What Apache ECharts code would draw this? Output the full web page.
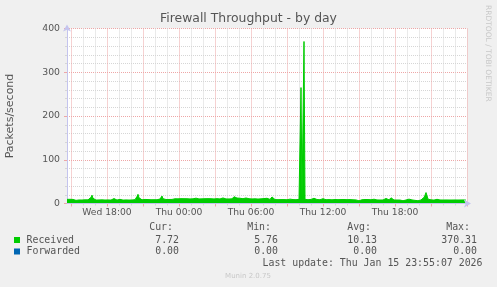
<!DOCTYPE html>
<html>
<head>
<meta charset="utf-8">
<script src="https://cdn.jsdelivr.net/npm/echarts@6/dist/echarts.min.js"></script>
<style>
html,body{margin:0;padding:0;background:#f0f0f0;}
#chart{width:497px;height:287px;}
</style>
</head>
<body>
<div id="chart"></div>
<script>
// ---- data ----
var TITLE = 'Firewall Throughput - by day';
var Y_NAME = 'Packets/second';
var START_MIN = 880;   // Wed 14:40, minutes since Wed 00:00
var STEP_MIN = 5;
var SLOTS = 401;       // 14:40 Wed .. 00:00 Fri
var TICK_LABELS = ['Wed 18:00', 'Thu 00:00', 'Thu 06:00', 'Thu 12:00', 'Thu 18:00'];
var Y_TICKS = [0, 100, 200, 300, 400];

var RECEIVED = [
  9.5, 9.8, 9.2, 9.6, 9.4, 9.7, 9.3, 9.5, 7.4, 7.2, 7.6, 7.3, 8.1, 7.9, 8.3, 8.0, 8.2, 7.8, 8.4, 8.1,
  7.9, 8.3, 8.6, 9.2, 14, 19, 12, 8.4, 8.1, 7.9, 8.5, 9.4, 8.2, 8.0, 9.6, 8.3, 7.9, 8.2, 8.0, 8.4,
  7.8, 8.2, 8.6, 8.1, 7.9, 9.0, 10.5, 11.2, 9.8, 8.2, 7.9, 8.4, 8.1, 9.5, 8.0, 8.3, 7.8, 8.5, 9.6, 8.2,
  8.0, 8.4, 7.9, 8.6, 9.4, 8.1, 8.3, 7.9, 8.8, 10.5, 16, 21, 13, 8.6, 8.9, 8.5, 9.1, 8.7, 9.3, 8.8,
  8.5, 9.0, 8.7, 9.2, 8.6, 8.9, 9.4, 8.7, 9.1, 8.8, 8.6, 9.3, 8.9, 10.2, 14, 17, 11, 9.0, 9.4, 9.1,
  8.8, 9.5, 9.2, 9.0, 9.6, 9.3, 9.8, 10.5, 10.8, 10.3, 11.0, 10.6, 10.9, 10.4, 11.1, 10.7, 10.5, 11.0, 10.8, 10.3,
  10.9, 10.6, 11.2, 10.5, 10.8, 11.0, 10.7, 12.5, 12.8, 12.2, 11.5, 10.8, 10.5, 11.0, 12.6, 10.6, 10.9, 10.4, 11.0, 10.7,
  10.5, 11.1, 10.8, 10.3, 10.9, 10.6, 11.0, 10.5, 10.8, 10.4, 11.1, 10.7, 10.9, 10.5, 11.3, 12.4, 12.7, 11.8, 10.8, 10.5,
  11.0, 10.7, 10.4, 10.9, 11.1, 10.6, 11.5, 15.5, 13.0, 11.8, 12.5, 13.5, 15.0, 12.0, 10.8, 10.5, 11.0, 10.6, 10.9, 12.6,
  10.7, 10.4, 10.9, 10.6, 11.0, 10.5, 10.8, 10.3, 10.7, 11.0, 10.5, 10.2, 10.8, 10.4, 10.6, 10.9, 10.3, 11.2, 12.5, 12.8,
  12.0, 10.0, 9.6, 9.4, 12, 15, 14.5, 11, 9.0, 8.7, 9.2, 8.8, 9.1, 8.6, 8.9, 9.3, 8.7, 9.0, 8.8, 9.2,
  8.6, 8.9, 9.1, 10.0, 12.5, 12.0, 9.0, 8.8, 9.2, 8.7, 9.0, 8.9, 9.5, 10.5, 265, 9.8, 10.2, 370.31, 9.5, 8.9,
  9.2, 8.7, 9.0, 8.8, 9.3, 10.2, 13.5, 12.0, 9.0, 8.7, 9.1, 8.8, 9.2, 8.6, 8.9, 9.0, 11, 8.8, 9.1, 8.7,
  9.0, 8.6, 8.9, 9.2, 8.8, 8.5, 9.0, 8.7, 9.1, 8.6, 8.9, 8.8, 9.2, 8.7, 9.0, 8.5, 8.8, 9.1, 9.4, 11,
  8.8, 9.0, 8.6, 8.9, 8.7, 9.1, 8.5, 8.8, 8.6, 8.2, 5.9, 5.76, 6.2, 8.7, 9.0, 8.6, 8.9, 8.8, 9.1, 8.5,
  8.7, 9.0, 8.4, 8.8, 8.6, 8.9, 8.5, 9.8, 10.1, 9.6, 8.2, 7.9, 8.3, 8.0, 8.4, 7.8, 8.1, 8.5, 9.0, 11.5,
  12.2, 11.0, 8.4, 9.5, 13, 14.2, 12.5, 8.1, 7.9, 8.3, 8.0, 7.8, 8.2, 7.9, 7.4, 6.5, 6.3, 6.6, 6.8, 8.0,
  8.3, 8.5, 10, 8.1, 7.9, 8.2, 8.0, 7.8, 7.2, 6.4, 6.6, 6.3, 6.5, 6.8, 8.1, 8.4, 10, 14, 19, 25,
  18, 10, 8.2, 7.9, 8.3, 8.0, 8.1, 7.8, 8.2, 8.5, 9.6, 9.9, 9.4, 8.1, 7.9, 8.3, 8.0, 7.8, 8.2, 8.1,
  7.9, 8.4, 8.0, 7.8, 8.2, 8.0, 8.3, 7.9, 8.1, 7.8, 8.2, 8.0, 7.9, 8.3, 8.1, 7.8, 8.0, 8.2, 7.9, 7.72,
  null
];

var FORWARDED = [
  0,0,0,0,0,0,0,0,0,0,0,0,0,0,0,0,0,0,0,0, 0,0,0,0,0,0,0,0,0,0,0,0,0,0,0,0,0,0,0,0,
  0,0,0,0,0,0,0,0,0,0,0,0,0,0,0,0,0,0,0,0, 0,0,0,0,0,0,0,0,0,0,0,0,0,0,0,0,0,0,0,0,
  0,0,0,0,0,0,0,0,0,0,0,0,0,0,0,0,0,0,0,0, 0,0,0,0,0,0,0,0,0,0,0,0,0,0,0,0,0,0,0,0,
  0,0,0,0,0,0,0,0,0,0,0,0,0,0,0,0,0,0,0,0, 0,0,0,0,0,0,0,0,0,0,0,0,0,0,0,0,0,0,0,0,
  0,0,0,0,0,0,0,0,0,0,0,0,0,0,0,0,0,0,0,0, 0,0,0,0,0,0,0,0,0,0,0,0,0,0,0,0,0,0,0,0,
  0,0,0,0,0,0,0,0,0,0,0,0,0,0,0,0,0,0,0,0, 0,0,0,0,0,0,0,0,0,0,0,0,0,0,0,0,0,0,0,0,
  0,0,0,0,0,0,0,0,0,0,0,0,0,0,0,0,0,0,0,0, 0,0,0,0,0,0,0,0,0,0,0,0,0,0,0,0,0,0,0,0,
  0,0,0,0,0,0,0,0,0,0,0,0,0,0,0,0,0,0,0,0, 0,0,0,0,0,0,0,0,0,0,0,0,0,0,0,0,0,0,0,0,
  0,0,0,0,0,0,0,0,0,0,0,0,0,0,0,0,0,0,0,0, 0,0,0,0,0,0,0,0,0,0,0,0,0,0,0,0,0,0,0,0,
  0,0,0,0,0,0,0,0,0,0,0,0,0,0,0,0,0,0,0,0, 0,0,0,0,0,0,0,0,0,0,0,0,0,0,0,0,0,0,0,0,
  null
];

var LEGEND_NAMES = ['Received', 'Forwarded'];
var LEGEND_COLORS = ['#00cc00', '#0066b3'];
var STAT_HEADERS = ['Cur:', 'Min:', 'Avg:', 'Max:'];
var STATS_RECEIVED = ['7.72', '5.76', '10.13', '370.31'];
var STATS_FORWARDED = ['0.00', '0.00', '0.00', '0.00'];
var LAST_UPDATE = 'Last update: Thu Jan 15 23:55:07 2026';
var FOOTER = 'Munin 2.0.75';
var WATERMARK = 'RRDTOOL / TOBI OETIKER';

// ---- categories (5 minute slots) ----
var DAYS = ['Wed', 'Thu', 'Fri'];
var CATEGORIES = [];
for (var i = 0; i < SLOTS; i++) {
  var m = START_MIN + i * STEP_MIN;
  var d = Math.floor(m / 1440), r = m % 1440;
  var hh = Math.floor(r / 60), mm = r % 60;
  CATEGORIES.push(DAYS[d] + ' ' + (hh < 10 ? '0' : '') + hh + ':' + (mm < 10 ? '0' : '') + mm);
}
function minuteOf(idx) { return START_MIN + idx * STEP_MIN; }
function isMajor(idx) { return minuteOf(idx) % 180 === 0; }
function isMinor(idx) { return minuteOf(idx) % 60 === 0 && minuteOf(idx) % 180 !== 0; }

var FONT = 'DejaVu Sans';
var MONO = 'DejaVu Sans Mono';
var TXT = '#555555';
var AXIS_COL = '#c4c4ee';
var MAJOR_COL = '#eea6a6';
var MINOR_COL = '#d6d6d6';

var chart = echarts.init(document.getElementById('chart'), null, {renderer: 'canvas'});

var COLS_RIGHT = [179, 278, 377, 477];
var HEAD_RIGHT = [173, 271, 371, 470];
var graphics = [];
graphics.push({type: 'text', x: 248.5, y: 19, style: {text: TITLE, font: '12.4px "' + FONT + '"', fill: TXT, textAlign: 'center', textVerticalAlign: 'middle'}});
graphics.push({type: 'text', x: 10.5, y: 116, rotation: Math.PI / 2,
  style: {text: Y_NAME, font: '11px "' + FONT + '"', fill: TXT, textAlign: 'center', textVerticalAlign: 'middle'}});
graphics.push({type: 'text', x: 488, y: 5, rotation: -Math.PI / 2,
  style: {text: WATERMARK, font: '7.5px "' + FONT + '"', fill: '#c8c8c8', textAlign: 'left', textVerticalAlign: 'middle'}});
for (var k = 0; k < 4; k++) {
  graphics.push({type: 'text', x: HEAD_RIGHT[k], y: 227.5,
    style: {text: STAT_HEADERS[k], font: '9.9px "' + MONO + '"', fill: TXT, textAlign: 'right', textVerticalAlign: 'middle'}});
  graphics.push({type: 'text', x: COLS_RIGHT[k], y: 240,
    style: {text: STATS_RECEIVED[k], font: '9.9px "' + MONO + '"', fill: TXT, textAlign: 'right', textVerticalAlign: 'middle'}});
  graphics.push({type: 'text', x: COLS_RIGHT[k], y: 251.5,
    style: {text: STATS_FORWARDED[k], font: '9.9px "' + MONO + '"', fill: TXT, textAlign: 'right', textVerticalAlign: 'middle'}});
}
var ROW_Y = [240, 251.5];
for (var s = 0; s < 2; s++) {
  graphics.push({type: 'rect', shape: {x: 14, y: ROW_Y[s] - 3, width: 6, height: 6}, style: {fill: LEGEND_COLORS[s]}});
  graphics.push({type: 'text', x: 26.5, y: ROW_Y[s],
    style: {text: LEGEND_NAMES[s], font: '9.9px "' + MONO + '"', fill: TXT, textAlign: 'left', textVerticalAlign: 'middle'}});
}
graphics.push({type: 'text', x: 482.5, y: 263,
  style: {text: LAST_UPDATE, font: '9.9px "' + MONO + '"', fill: TXT, textAlign: 'right', textVerticalAlign: 'middle'}});
graphics.push({type: 'text', x: 248, y: 276,
  style: {text: FOOTER, font: '7px "' + FONT + '"', fill: '#c8c8c8', textAlign: 'center', textVerticalAlign: 'middle'}});

var option = {
  animation: false,
  backgroundColor: '#f0f0f0',
  grid: {left: 67, right: 30, top: 28.5, bottom: 83.5, show: true, backgroundColor: '#ffffff', borderWidth: 0},
  xAxis: [
    {
      type: 'category', data: CATEGORIES, boundaryGap: false, position: 'bottom',
      axisLine: {show: false},
      axisTick: {show: true, interval: function (idx) { return isMajor(idx); }, length: 3, lineStyle: {color: MAJOR_COL}},
      axisLabel: {show: true, interval: function (idx, val) { return TICK_LABELS.indexOf(val) >= 0; },
        color: TXT, fontSize: 9.2, fontFamily: FONT, margin: 5},
      splitLine: {show: true, interval: function (idx) { return isMajor(idx); }, lineStyle: {color: MAJOR_COL, type: [1, 1], width: 1}}
    },
    {
      type: 'category', data: CATEGORIES, boundaryGap: false, position: 'bottom',
      axisLine: {show: false}, axisLabel: {show: false},
      axisTick: {show: true, interval: function (idx) { return isMinor(idx); }, length: 2, lineStyle: {color: MINOR_COL}},
      splitLine: {show: true, interval: function (idx) { return isMinor(idx); }, lineStyle: {color: MINOR_COL, type: [1, 1], width: 1}}
    },
    {
      type: 'category', data: CATEGORIES, boundaryGap: false, position: 'bottom', z: 10,
      axisLine: {show: true, lineStyle: {color: AXIS_COL, width: 1}, symbol: ['none', 'arrow'], symbolSize: [6, 7], symbolOffset: [0, 4]},
      axisTick: {show: false}, axisLabel: {show: false}, splitLine: {show: false}
    }
  ],
  yAxis: [
    {
      type: 'value', min: Y_TICKS[0], max: Y_TICKS[Y_TICKS.length - 1], interval: 100,
      axisLine: {show: true, lineStyle: {color: AXIS_COL, width: 1}, symbol: ['none', 'arrow'], symbolSize: [6, 7], symbolOffset: [0, 4]},
      axisTick: {show: true, length: 3, lineStyle: {color: MAJOR_COL}},
      minorTick: {show: true, splitNumber: 5, length: 2, lineStyle: {color: MINOR_COL}},
      axisLabel: {color: TXT, fontSize: 9.3, fontFamily: FONT, margin: 7},
      splitLine: {show: true, lineStyle: {color: MAJOR_COL, type: [1, 1], width: 1}},
      minorSplitLine: {show: true, lineStyle: {color: MINOR_COL, type: [1, 1], width: 1}}
    }
  ],
  series: [
    {
      name: LEGEND_NAMES[1], type: 'line', data: FORWARDED, xAxisIndex: 0, symbol: 'none', showSymbol: false,
      lineStyle: {color: LEGEND_COLORS[1], width: 1}, z: 1, silent: true
    },
    {
      name: LEGEND_NAMES[0], type: 'line', data: RECEIVED, xAxisIndex: 0, symbol: 'none', showSymbol: false,
      lineStyle: {color: LEGEND_COLORS[0], width: 1}, areaStyle: {color: LEGEND_COLORS[0], opacity: 1}, z: 2, silent: true
    }
  ],
  graphic: graphics
};
chart.setOption(option);
</script>
</body>
</html>
